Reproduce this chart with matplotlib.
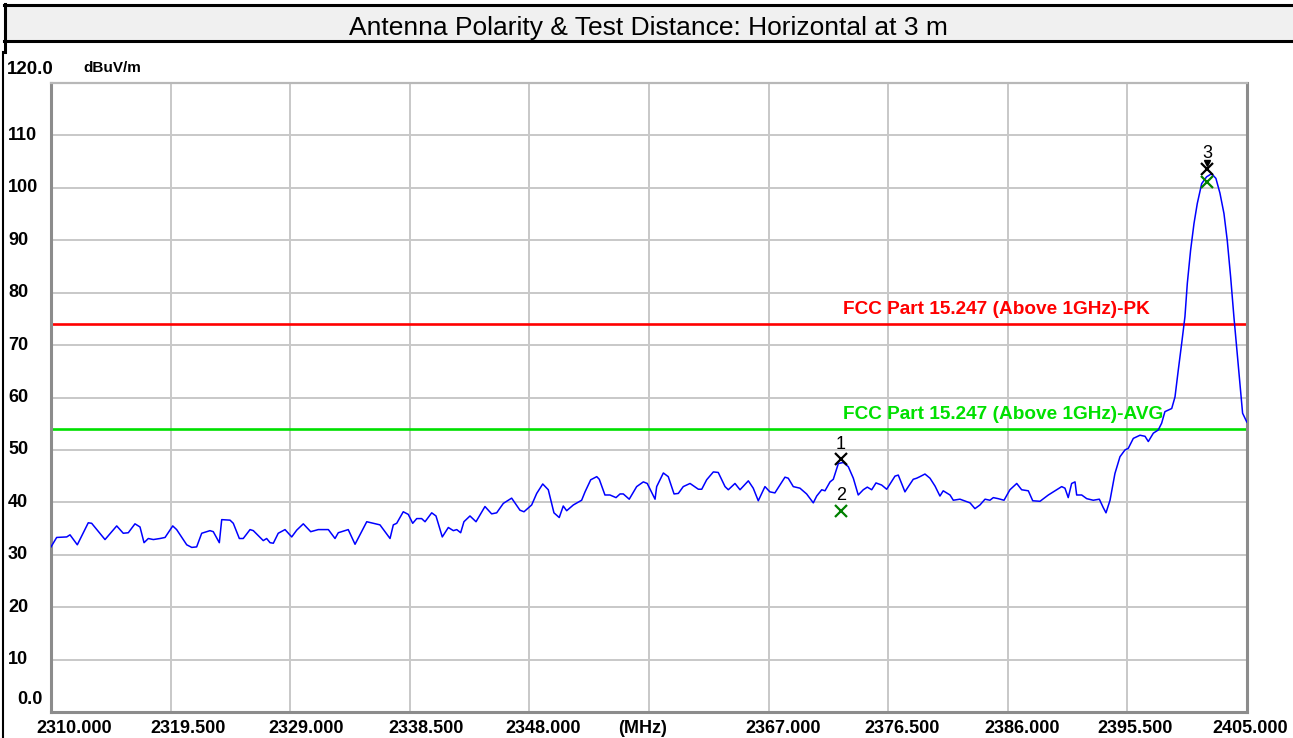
import matplotlib
matplotlib.use("Agg")
import matplotlib.pyplot as plt
from matplotlib.patches import Rectangle
from matplotlib.lines import Line2D
from matplotlib.transforms import offset_copy

plt.rcParams['font.family'] = ['Liberation Sans', 'DejaVu Sans']

title = "Antenna Polarity & Test Distance: Horizontal at 3 m"

# trace (MHz, dBuV/m)
freq = [2310.00, 2310.45, 2311.25, 2311.51, 2312.09, 2312.96, 2313.23, 2314.29,
        2315.22, 2315.74, 2316.14, 2316.67, 2317.07, 2317.39, 2317.73, 2318.13,
        2318.66, 2319.06, 2319.67, 2319.98, 2320.78, 2321.18, 2321.57, 2321.97,
        2322.63, 2322.89, 2323.37, 2323.56, 2324.22, 2324.48, 2324.96, 2325.27,
        2325.81, 2326.07, 2326.86, 2327.13, 2327.40, 2327.66, 2328.05, 2328.59,
        2329.12, 2329.52, 2330.04, 2330.63, 2331.23, 2332.03, 2332.56, 2332.82,
        2333.61, 2334.15, 2335.08, 2336.13, 2336.93, 2337.19, 2337.46, 2337.98,
        2338.38, 2338.73, 2339.05, 2339.44, 2339.71, 2340.24, 2340.58, 2341.08,
        2341.56, 2341.96, 2342.23, 2342.54, 2342.80, 2343.28, 2343.76, 2344.47,
        2345.00, 2345.40, 2345.93, 2346.59, 2347.25, 2347.57, 2348.18, 2348.58,
        2349.06, 2349.50, 2349.95, 2350.37, 2350.69, 2350.96, 2351.49, 2352.15,
        2352.42, 2352.87, 2353.35, 2353.55, 2354.00, 2354.40, 2354.88, 2355.20,
        2355.46, 2355.93, 2356.52, 2357.05, 2357.36, 2357.98, 2358.11, 2358.64,
        2359.03, 2359.49, 2359.83, 2360.22, 2360.76, 2361.42, 2361.69, 2362.08,
        2362.61, 2363.00, 2363.54, 2363.80, 2364.33, 2364.73, 2365.39, 2365.78,
        2366.18, 2366.71, 2367.10, 2367.50, 2368.30, 2368.56, 2368.96, 2369.49,
        2370.02, 2370.55, 2370.82, 2371.22, 2371.48, 2371.88, 2372.14, 2372.54,
        2372.93, 2373.33, 2373.73, 2374.12, 2374.52, 2374.84, 2375.19, 2375.53,
        2375.98, 2376.38, 2377.04, 2377.30, 2377.83, 2378.10, 2378.49, 2378.76,
        2379.02, 2379.42, 2379.82, 2380.22, 2380.61, 2380.87, 2381.41, 2381.67,
        2382.20, 2383.00, 2383.39, 2383.79, 2384.19, 2384.58, 2384.85, 2385.24,
        2385.70, 2386.17, 2386.71, 2387.10, 2387.63, 2387.98, 2388.56, 2389.22,
        2389.88, 2390.28, 2390.54, 2390.80, 2391.07, 2391.34, 2391.47, 2391.87,
        2392.27, 2392.79, 2393.27, 2393.58, 2393.80, 2394.12, 2394.51, 2394.91,
        2395.31, 2395.57, 2395.97, 2396.50, 2396.90, 2397.16, 2397.56, 2397.95,
        2398.22, 2398.48, 2399.02, 2399.28, 2399.54, 2399.81, 2400.07, 2400.26,
        2400.52, 2400.79, 2401.05, 2401.40, 2401.79, 2402.19, 2402.53, 2402.85,
        2403.17, 2403.43, 2403.70, 2403.96, 2404.18, 2404.44, 2404.65, 2404.97,
        2405.00]
level = [31.5, 33.3, 33.4, 33.8, 31.9, 36.1, 36.0, 32.9,
         35.5, 34.1, 34.2, 35.9, 35.3, 32.3, 33.1, 32.9,
         33.1, 33.3, 35.5, 34.8, 31.9, 31.4, 31.5, 34.1,
         34.6, 34.4, 32.3, 36.7, 36.6, 36.0, 33.1, 33.1,
         34.8, 34.6, 32.7, 33.1, 32.3, 32.2, 34.1, 34.8,
         33.4, 34.7, 35.9, 34.4, 34.8, 34.8, 33.1, 34.2,
         34.8, 32.0, 36.3, 35.7, 33.1, 35.7, 36.0, 38.2,
         37.7, 36.0, 36.9, 36.9, 36.3, 38.0, 37.4, 33.4,
         35.2, 34.6, 34.8, 34.2, 36.3, 37.4, 36.3, 39.2,
         37.8, 38.0, 39.8, 40.8, 38.5, 38.2, 39.5, 41.7,
         43.5, 42.4, 38.0, 37.1, 39.3, 38.4, 39.5, 40.4,
         42.0, 44.3, 44.9, 44.4, 41.4, 41.4, 40.9, 41.6,
         41.6, 40.6, 43.0, 43.9, 43.6, 40.6, 43.0, 45.6,
         44.9, 41.6, 41.7, 43.0, 43.6, 42.5, 42.5, 44.3,
         45.8, 45.7, 43.0, 42.4, 43.6, 42.4, 44.1, 42.7,
         40.3, 43.0, 42.0, 41.8, 44.8, 44.6, 43.0, 42.7,
         41.6, 39.9, 41.2, 42.4, 42.2, 43.9, 44.4, 47.4,
         47.6, 46.8, 44.6, 41.4, 42.4, 42.9, 42.4, 43.7,
         43.3, 42.5, 45.0, 45.2, 42.0, 43.0, 44.4, 44.6,
         44.9, 45.4, 44.6, 43.1, 41.2, 42.2, 41.4, 40.4,
         40.6, 39.9, 38.8, 39.5, 40.6, 40.4, 40.9, 40.7,
         40.4, 42.4, 43.6, 42.4, 42.2, 40.3, 40.2, 41.4,
         42.4, 43.0, 42.7, 40.9, 43.6, 43.9, 41.4, 41.4,
         40.7, 40.4, 40.6, 39.0, 38.0, 40.4, 45.5, 48.7,
         50.0, 50.3, 52.2, 52.8, 52.6, 51.6, 53.2, 53.8,
         55.1, 57.3, 57.9, 60.1, 65.2, 70.3, 75.4, 81.8,
         88.1, 93.2, 97.0, 100.8, 102.1, 102.7, 101.8, 99.0,
         95.1, 90.0, 83.0, 75.4, 69.6, 62.7, 57.0, 55.4,
         55.3]

limit_pk = 74.0
limit_avg = 54.0
limit_pk_label = "FCC Part 15.247 (Above 1GHz)-PK"
limit_avg_label = "FCC Part 15.247 (Above 1GHz)-AVG"

# markers: number, freq, peak reading, average reading
marker_no = ["1", "2", "3"]
marker_freq = [2372.75, 2372.75, 2401.82]
marker_level = [48.2, 38.4, 103.6]
marker_color = ["black", "#008000", "black"]
marker3_avg = 101.1

x_ticks = [2310.0, 2319.5, 2329.0, 2338.5, 2348.0, 2357.5,
           2367.0, 2376.5, 2386.0, 2395.5, 2405.0]
x_ticklabels = ["2310.000", "2319.500", "2329.000", "2338.500", "2348.000", "(MHz)",
                "2367.000", "2376.500", "2386.000", "2395.500", "2405.000"]
y_ticks = [10, 20, 30, 40, 50, 60, 70, 80, 90, 100, 110]

W, H = 1293, 738
fig = plt.figure(figsize=(W / 100, H / 100), dpi=100)
fig.patch.set_facecolor("white")

# title bar
fig.patches.append(Rectangle((4 / W, 1 - 41 / H), 1.0, 36 / H, transform=fig.transFigure,
                             facecolor="#f0f0f0", edgecolor="none", zorder=0))
for yy in (5, 41):
    fig.add_artist(Line2D([4 / W, 1], [1 - yy / H, 1 - yy / H], color="black", lw=2.2))
fig.add_artist(Line2D([4.5 / W, 4.5 / W], [1 - 4 / H, 1 - 52 / H], color="black", lw=2.2))
fig.add_artist(Line2D([3 / W, 3 / W], [1 - 52 / H, 0], color="black", lw=1.5))
fig.text(648 / W, 1 - 28 / H, title, ha="center", va="center", fontsize=19)

ax = fig.add_axes([51 / W, 26 / H, 1196 / W, 629 / H])
ax.set_xlim(2310, 2405)
ax.set_ylim(0, 120)
ax.set_xticks(x_ticks)
ax.set_yticks(y_ticks)
ax.tick_params(length=0, labelbottom=False, labelleft=False)
ax.grid(True, color="#c8c8c8", lw=1.4)
ax.set_axisbelow(True)
for side in ("left", "bottom", "right"):
    ax.spines[side].set_color("#8c8c8c")
    ax.spines[side].set_linewidth(2.2)
ax.spines["top"].set_color("#b8b8b8")
ax.spines["top"].set_linewidth(1.6)

ax.axhline(limit_pk, color="#ff0000", lw=1.9, zorder=2)
ax.axhline(limit_avg, color="#00e000", lw=1.9, zorder=2)
ax.text(2372.9, limit_pk + 1.1, limit_pk_label, color="#ff0000", fontsize=13.7,
        fontweight="bold", va="bottom", ha="left")
ax.text(2372.9, limit_avg + 1.1, limit_avg_label, color="#00e000", fontsize=13.7,
        fontweight="bold", va="bottom", ha="left")

ax.plot(freq, level, color="#0000ff", lw=1.1, zorder=3)

for no, f, v, c in zip(marker_no, marker_freq, marker_level, marker_color):
    ax.plot(f, v, marker="x", color=c, ms=8, mew=1.6, zorder=4, clip_on=False)
    ax.text(f, v + 1.3, no, color="black", fontsize=13, ha="center", va="bottom")
ax.plot(marker_freq[2], marker3_avg, marker="x", color="#008000", ms=8, mew=1.6, zorder=4)
ax.plot(marker_freq[2], marker_level[2] + 1.2, marker="v", color="black", ms=5, zorder=4)

# axis labels drawn as text, as in the receiver software
lab_off = [23, 17, 16, 16, 14, -6, 15, 14, 14, 8, 3]
for xt, lab, off in zip(x_ticks, x_ticklabels, lab_off):
    tr = offset_copy(ax.get_xaxis_transform(), fig=fig, x=off, y=0, units="dots")
    ax.text(xt, -0.012, lab, transform=tr, ha="center", va="top",
            fontsize=13, fontweight="bold", clip_on=False)
for yt in y_ticks:
    ax.text(8 / W, ax.transData.transform((0, yt))[1] / H, str(yt),
            transform=fig.transFigure, ha="left", va="center",
            fontsize=13, fontweight="bold")
fig.text(17 / W, 1 - 700 / H, "0.0", ha="left", va="center", fontsize=13, fontweight="bold")
fig.text(7 / W, 1 - 70 / H, "120.0", ha="left", va="center", fontsize=13.5, fontweight="bold")
fig.text(83 / W, 1 - 68 / H, "dBuV/m", ha="left", va="center", fontsize=11, fontweight="bold")

fig.savefig("out.png", dpi=100)
